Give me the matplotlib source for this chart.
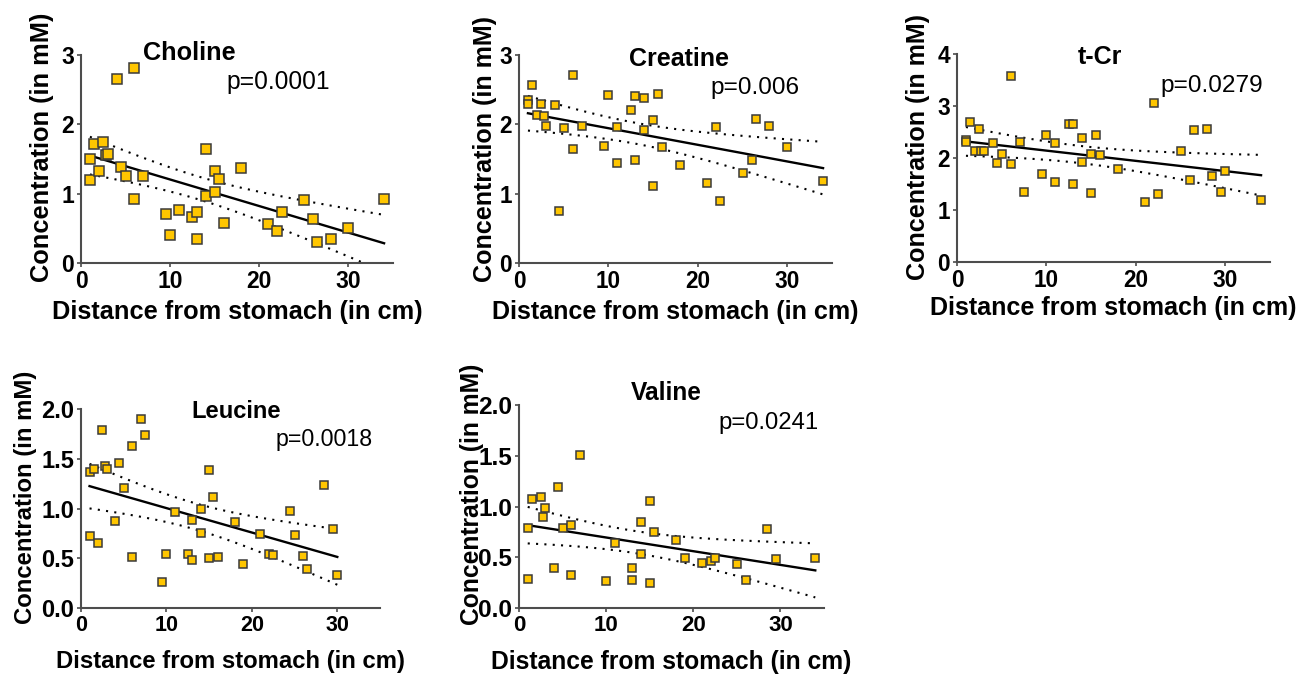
import numpy as np
import matplotlib
matplotlib.use('Agg')
import matplotlib.pyplot as plt

plt.rcParams['font.family'] = ['Liberation Sans', 'DejaVu Sans']

# Data (distance in cm, concentration in mM)
choline_x = [1, 1, 1.5, 2, 2.5, 2.8, 3, 4, 4.5, 5, 6, 6, 7, 9.5, 10, 11, 12.5, 13, 13,
             14, 14, 15, 15, 15.5, 16, 18, 21, 22, 22.5, 25, 26, 26.5, 28, 30, 34]
choline_y = [1.50, 1.20, 1.72, 1.32, 1.75, 1.56, 1.57, 2.65, 1.39, 1.26, 2.81, 0.93, 1.25,
             0.71, 0.40, 0.76, 0.67, 0.73, 0.35, 1.64, 0.96, 1.32, 1.03, 1.21, 0.58, 1.37,
             0.56, 0.46, 0.73, 0.91, 0.64, 0.31, 0.34, 0.51, 0.92]

creatine_x = [1, 1, 1.5, 2, 2.5, 2.8, 3, 4, 4.5, 5, 6, 6, 7, 9.5, 10, 11, 11, 12.5, 13, 13,
              14, 14, 15, 15, 15.5, 16, 18, 21, 22, 22.5, 25, 26, 26.5, 28, 30, 34]
creatine_y = [2.35, 2.29, 2.57, 2.13, 2.29, 2.12, 1.98, 2.28, 0.75, 1.94, 2.71, 1.64, 1.98,
              1.69, 2.43, 1.96, 1.44, 2.21, 2.41, 1.49, 2.38, 1.92, 2.06, 1.11, 2.44, 1.68,
              1.42, 1.16, 1.96, 0.89, 1.30, 1.48, 2.08, 1.98, 1.68, 1.18]

tcr_x = [1, 1, 1.5, 2, 2.5, 2.7, 3, 4, 4.5, 5, 6, 6, 7, 7.5, 9.5, 10, 11, 11, 12.5, 13, 13,
         14, 14, 15, 15, 15.5, 16, 18, 21, 22, 22.5, 25, 26, 26.5, 28, 28.5, 29.5, 30, 34]
tcr_y = [2.35, 2.30, 2.69, 2.14, 2.56, 2.14, 2.14, 2.29, 1.90, 2.07, 3.57, 1.88, 2.30, 1.34,
         1.70, 2.44, 2.28, 1.53, 2.66, 2.65, 1.50, 2.39, 1.92, 2.07, 1.32, 2.45, 2.06, 1.78,
         1.16, 3.06, 1.30, 2.14, 1.57, 2.54, 2.55, 1.66, 1.35, 1.75, 1.19]

leucine_x = [1, 1, 1.5, 2, 2.5, 2.8, 3, 4, 4.5, 5, 6, 6, 7, 7.5, 9.5, 10, 11, 12.5, 13, 13,
             14, 14, 15, 15, 15.5, 16, 18, 19, 21, 22, 22.5, 24.5, 25, 26, 26.5, 28.5, 29.5, 30]
leucine_y = [1.37, 0.72, 1.40, 0.65, 1.79, 1.43, 1.40, 0.87, 1.46, 1.21, 1.63, 0.51, 1.90,
             1.74, 0.26, 0.54, 0.96, 0.54, 0.88, 0.48, 1.00, 0.75, 1.39, 0.50, 1.12, 0.51,
             0.86, 0.44, 0.74, 0.54, 0.53, 0.97, 0.73, 0.52, 0.39, 1.24, 0.79, 0.33]

valine_x = [1, 1, 1.5, 2.5, 2.8, 3, 4, 4.5, 5, 6, 6, 7, 10, 11, 13, 13, 14, 14, 15, 15, 15.5,
            18, 19, 21, 22, 22.5, 25, 26, 28.5, 29.5, 34]
valine_y = [0.79, 0.29, 1.07, 1.09, 0.90, 0.99, 0.39, 1.19, 0.79, 0.82, 0.33, 1.51, 0.27,
            0.64, 0.39, 0.28, 0.85, 0.53, 1.05, 0.25, 0.75, 0.67, 0.49, 0.44, 0.46, 0.49,
            0.43, 0.28, 0.78, 0.48, 0.49]

names = ['Choline', 'Creatine', 't-Cr', 'Leucine', 'Valine']
p_values = ['p=0.0001', 'p=0.006', 'p=0.0279', 'p=0.0018', 'p=0.0241']

W, H = 1298, 674
fig = plt.figure(figsize=(W / 100, H / 100), dpi=100)


def add_axes(left, top, right, bottom):
    return fig.add_axes([left / W, 1 - bottom / H, (right - left) / W, (bottom - top) / H])


# left, top, right, bottom in pixels; ymax; yticks; title pos; p pos; ylabel pos;
# xlabel y; font scale; marker size
panels = [
    (choline_x, choline_y, (81, 55, 393, 263), 3, [0, 1, 2, 3], '{:.0f}',
     (0.199, 1.01), (0.465, 0.87), (-0.125, 0.555), -0.235, 1.0, 6.5),
    (creatine_x, creatine_y, (519, 55, 832, 263), 3, [0, 1, 2, 3], '{:.0f}',
     (0.351, 0.979), (0.613, 0.84), (-0.11, 0.55), -0.234, 0.99, 5.8),
    (tcr_x, tcr_y, (957, 54, 1270, 262), 4, [0, 1, 2, 3, 4], '{:.0f}',
     (0.386, 0.986), (0.651, 0.847), (-0.125, 0.555), -0.223, 0.99, 6.0),
    (leucine_x, leucine_y, (81, 409, 380, 608), 2, [0, 0.5, 1, 1.5, 2], '{:.1f}',
     (0.368, 0.986), (0.652, 0.848), (-0.187, 0.555), -0.27, 0.94, 5.8),
    (valine_x, valine_y, (519, 405, 824, 608), 2, [0, 0.5, 1, 1.5, 2], '{:.1f}',
     (0.368, 1.058), (0.654, 0.913), (-0.154, 0.561), -0.266, 0.97, 5.8),
]

spine_col = '#4d4d4d'
t_crit = 2.03  # two-sided 95% t value, df ~ 30-37

for i, (xs, ys, box, ymax, yt, fmt, tpos, ppos, ylpos, xly, fs, ms) in enumerate(panels):
    ax = add_axes(*box)
    x = np.array(xs)
    y = np.array(ys)

    # linear fit with 95% confidence band
    slope, intercept = np.polyfit(x, y, 1)
    xf = np.linspace(x.min(), x.max(), 100)
    yf = slope * xf + intercept
    n = len(x)
    resid = y - (slope * x + intercept)
    s = np.sqrt(np.sum(resid ** 2) / (n - 2))
    se = s * np.sqrt(1 / n + (xf - x.mean()) ** 2 / np.sum((x - x.mean()) ** 2))
    ax.plot(xf, yf, color='black', lw=1.7, zorder=2)
    ax.plot(xf, yf + t_crit * se, color='black', lw=1.5, ls=(0, (1, 3)), zorder=2)
    ax.plot(xf, yf - t_crit * se, color='black', lw=1.5, ls=(0, (1, 3)), zorder=2)

    ax.plot(x, y, 's', ms=ms, mfc='#FFC600', mec='#3a3a3a', mew=1.1, zorder=3, clip_on=False)

    ax.set_xlim(0, 35)
    ax.set_ylim(0, ymax)
    ax.set_xticks([0, 10, 20, 30])
    ax.set_yticks(yt)
    ax.set_yticklabels([fmt.format(v) for v in yt])
    for side in ['top', 'right']:
        ax.spines[side].set_visible(False)
    for side in ['left', 'bottom']:
        ax.spines[side].set_color(spine_col)
        ax.spines[side].set_linewidth(1.5)
    ax.tick_params(axis='both', colors=spine_col, length=3, width=1.2, pad=2)
    ysize = 16.5 * fs * (1.1 if '.1f' in fmt else 1.0)
    for lab in ax.get_xticklabels():
        lab.set_color('black')
        lab.set_fontsize(16.5 * fs)
        lab.set_fontweight('bold')
    for lab in ax.get_yticklabels():
        lab.set_color('black')
        lab.set_fontsize(ysize)
        lab.set_fontweight('bold')

    ax.set_xlabel('Distance from stomach (in cm)', fontsize=18.3 * fs, fontweight='bold')
    ax.set_ylabel('Concentration (in mM)', fontsize=18.3 * fs, fontweight='bold')
    ax.xaxis.set_label_coords(0.5, xly)
    ax.yaxis.set_label_coords(*ylpos)
    ax.xaxis.label.set_va('center')
    ax.yaxis.label.set_va('center')

    ax.text(tpos[0], tpos[1], names[i], transform=ax.transAxes, fontsize=18.2 * fs,
            fontweight='bold', ha='left', va='center')
    ax.text(ppos[0], ppos[1], p_values[i], transform=ax.transAxes, fontsize=17.7 * fs,
            ha='left', va='center')

fig.savefig('out.png', dpi=100)
